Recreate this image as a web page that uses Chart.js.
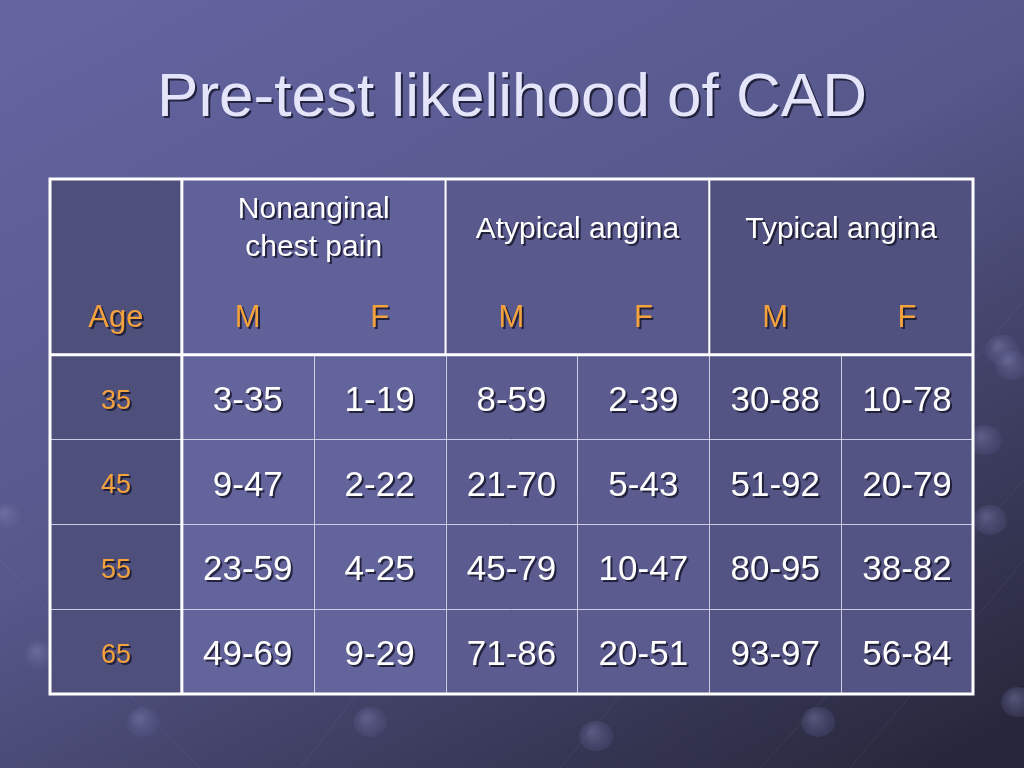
<!DOCTYPE html>
<html>
<head>
<meta charset="utf-8">
<script src="https://cdn.jsdelivr.net/npm/chart.js@4.4.1/dist/chart.umd.min.js"></script>
<style>
  html, body { margin: 0; padding: 0; background: #4a4a72; }
  canvas { display: block; }
</style>
</head>
<body>
<canvas id="tabela" width="1024" height="768"></canvas>
<script>
// dados da tabela
const titulo = 'Pre-test likelihood of CAD';
const idades = ['35', '45', '55', '65'];
const grupos = [['Nonanginal', 'chest pain'], ['Atypical angina'], ['Typical angina']];
const sexos = ['M', 'F'];
const nonanginalM = ['3-35', '9-47', '23-59', '49-69'];
const nonanginalF = ['1-19', '2-22', '4-25', '9-29'];
const atypicalM = ['8-59', '21-70', '45-79', '71-86'];
const atypicalF = ['2-39', '5-43', '10-47', '20-51'];
const typicalM = ['30-88', '51-92', '80-95', '93-97'];
const typicalF = ['10-78', '20-79', '38-82', '56-84'];

const colunas = [nonanginalM, nonanginalF, atypicalM, atypicalF, typicalM, typicalF];

const fonte = '"Liberation Sans", Arial, sans-serif';
const laranja = '#f4a23c';
const alturaCab = 2.07; // altura do cabeçalho em unidades de linha
const corCol = ['#64649d', '#64649d', '#5b5b90', '#5b5b90', '#535384', '#535384'];
const corCab = ['#61619a', '#59598d', '#51517f'];

const ctx = document.querySelector('#tabela');

function texto(c, str, x, y, size, cor) {
    c.save();
    c.font = size + 'px ' + fonte;
    c.textAlign = 'center';
    c.textBaseline = 'middle';
    c.fillStyle = 'rgba(20,20,40,0.8)';
    c.fillText(str, x + 2, y + 2);
    c.fillStyle = cor;
    c.fillText(str, x, y);
    c.restore();
}

const fundo = {
    id: 'fundo',
    beforeDraw(chart) {
        const c = chart.ctx;
        const w = chart.width, h = chart.height;
        const g = c.createLinearGradient(300, -100, 800, 840);
        g.addColorStop(0, '#6364a0');
        g.addColorStop(0.45, '#56578a');
        g.addColorStop(1, '#27273b');
        c.save();
        c.fillStyle = g;
        c.fillRect(0, 0, w, h);
        // linhas e bolinhas decorativas
        c.strokeStyle = 'rgba(200,200,240,0.08)';
        c.lineWidth = 1;
        const linhas = [[0, 560, 200, 768], [300, 768, 460, 560], [560, 768, 700, 600], [760, 768, 1024, 480], [850, 768, 1024, 560], [1024, 300, 940, 400]];
        linhas.forEach(l => { c.beginPath(); c.moveTo(l[0], l[1]); c.lineTo(l[2], l[3]); c.stroke(); });
        const bolas = [[143, 722], [370, 722], [596, 736], [818, 722], [1018, 702], [8, 517], [40, 655], [990, 520], [1002, 350], [985, 440], [1012, 365]];
        bolas.forEach(b => {
            const rg = c.createRadialGradient(b[0] - 4, b[1] - 4, 2, b[0], b[1], 17);
            rg.addColorStop(0, 'rgba(130,130,180,0.45)');
            rg.addColorStop(1, 'rgba(80,80,130,0.28)');
            c.fillStyle = rg;
            c.beginPath();
            c.ellipse(b[0], b[1], 17, 15, 0, 0, Math.PI * 2);
            c.fill();
        });
        c.restore();
        texto(c, titulo, 512, 99, 62, '#e4e4fa');
    },
    beforeDatasetsDraw(chart) {
        const c = chart.ctx;
        const xs = chart.scales.x, ys = chart.scales.y;
        const px = v => xs.getPixelForValue(v);
        const py = v => ys.getPixelForValue(v);
        const fim = alturaCab + idades.length;
        c.save();
        // coluna de idade
        c.fillStyle = '#4f4f7c';
        c.fillRect(px(0), py(0), px(1) - px(0), py(fim) - py(0));
        // cabeçalho dos grupos
        corCab.forEach((cor, i) => {
            c.fillStyle = cor;
            c.fillRect(px(1 + i * 2), py(0), px(3 + i * 2) - px(1 + i * 2), py(alturaCab) - py(0));
        });
        // colunas do corpo
        corCol.forEach((cor, i) => {
            c.fillStyle = cor;
            c.fillRect(px(1 + i), py(alturaCab), px(2 + i) - px(1 + i), py(fim) - py(alturaCab));
        });
        // linhas finas do corpo
        c.strokeStyle = 'rgba(225,225,245,0.85)';
        c.lineWidth = 1;
        for (let i = 2; i <= 6; i++) {
            c.beginPath();
            c.moveTo(Math.round(px(i)) + 0.5, py(alturaCab));
            c.lineTo(Math.round(px(i)) + 0.5, py(fim));
            c.stroke();
        }
        for (let r = 1; r < idades.length; r++) {
            c.beginPath();
            c.moveTo(px(0), Math.round(py(alturaCab + r)) + 0.5);
            c.lineTo(px(7), Math.round(py(alturaCab + r)) + 0.5);
            c.stroke();
        }
        // separadores do cabeçalho
        c.strokeStyle = '#ffffff';
        c.lineWidth = 2;
        [3, 5].forEach(i => {
            c.beginPath();
            c.moveTo(px(i), py(0));
            c.lineTo(px(i), py(alturaCab));
            c.stroke();
        });
        // bordas grossas
        c.lineWidth = 3;
        c.strokeRect(px(0), py(0), px(7) - px(0), py(fim) - py(0));
        c.beginPath();
        c.moveTo(px(0), py(alturaCab));
        c.lineTo(px(7), py(alturaCab));
        c.moveTo(px(1), py(0));
        c.lineTo(px(1), py(fim));
        c.stroke();
        c.restore();

        // textos do cabeçalho
        grupos.forEach((g, i) => {
            const cx = px(2 + i * 2);
            if (g.length == 2) {
                texto(c, g[0], cx, py(0.36), 30, '#ffffff');
                texto(c, g[1], cx, py(0.81), 30, '#ffffff');
            } else {
                texto(c, g[0], cx, py(0.60), 30, '#ffffff');
            }
            sexos.forEach((s, j) => {
                texto(c, s, px(1.5 + i * 2 + j), py(1.64), 31, laranja);
            });
        });
        texto(c, 'Age', px(0.5), py(1.64), 31, laranja);
    },
    afterDatasetsDraw(chart) {
        const c = chart.ctx;
        chart.data.datasets.forEach((ds, i) => {
            const meta = chart.getDatasetMeta(i);
            meta.data.forEach((pt, j) => {
                const d = ds.data[j];
                texto(c, d.rotulo, pt.x, pt.y + 4, d.tamanho, d.cor);
            });
        });
    }
};

const datasets = [{
    label: 'Age',
    data: idades.map((a, r) => ({ x: 0.5, y: alturaCab + r + 0.5, rotulo: a, tamanho: 27, cor: laranja })),
    pointRadius: 0
}];
colunas.forEach((col, i) => {
    datasets.push({
        label: grupos[Math.floor(i / 2)].join(' ') + ' ' + sexos[i % 2],
        data: col.map((v, r) => ({ x: i + 1.5, y: alturaCab + r + 0.5, rotulo: v, tamanho: 35, cor: '#ffffff' })),
        pointRadius: 0
    });
});

new Chart(ctx, {
    type: 'scatter',
    data: { datasets: datasets },
    options: {
        responsive: false,
        devicePixelRatio: 1,
        animation: false,
        layout: { padding: { left: 50, top: 179, right: 51, bottom: 74 } },
        scales: {
            x: { type: 'linear', min: 0, max: 7, display: false },
            y: { type: 'linear', min: 0, max: alturaCab + idades.length, reverse: true, display: false }
        },
        plugins: {
            legend: { display: false },
            tooltip: { enabled: false }
        }
    },
    plugins: [fundo]
});
</script>
</body>
</html>
